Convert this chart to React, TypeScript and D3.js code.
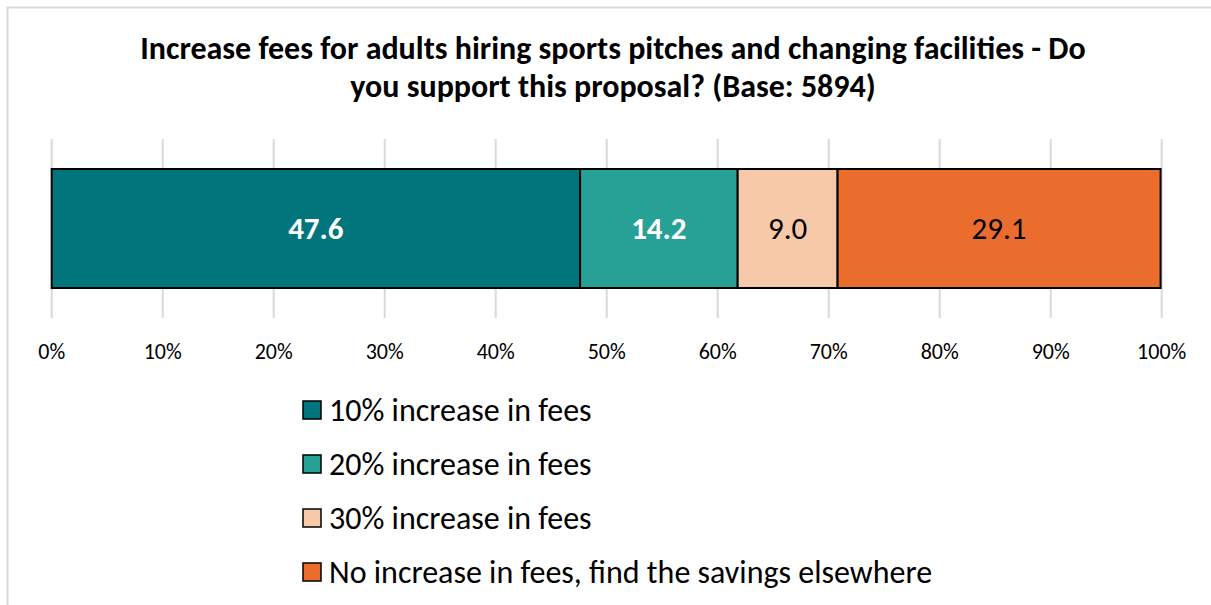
import { useMemo } from "react";
import * as d3 from "d3";

const keys = ["10% increase in fees", "20% increase in fees", "30% increase in fees", "No increase in fees, find the savings elsewhere"];
const values = [47.6, 14.2, 9.0, 29.1];
const colors = ["#00767C", "#27A096", "#F8C9A9", "#EB6D2D"];
const labelColors = ["#ffffff", "#ffffff", "#000000", "#000000"];
const labelWeights = ["bold", "bold", "normal", "normal"];
const ticks = [0, 10, 20, 30, 40, 50, 60, 70, 80, 90, 100];
const titleLines = [
  "Increase fees for adults hiring sports pitches and changing facilities - Do",
  "you support this proposal? (Base: 5894)",
];

const W = 1211;
const H = 605;
const FONT = "Carlito, Lato, 'Open Sans', sans-serif";

export default function App() {
  const x = d3.scaleLinear().domain([0, 100]).range([51.7, 1161.7]);
  const y = d3.scaleBand().domain(["row"]).range([169, 288]).padding(0);

  const stacked = useMemo(() => {
    const row: any = { cat: "row" };
    keys.forEach((k, i) => (row[k] = values[i]));
    return d3.stack().keys(keys)([row]);
  }, []);

  const gridTop = (y("row") as number) - 30;
  const gridBottom = (y("row") as number) + y.bandwidth() + 30;

  return (
    <svg width={W} height={H} style={{ position: "absolute", left: 0, top: 0 }} fontFamily={FONT}>
      <rect x={0} y={0} width={W} height={H} fill="#fff" />
      <rect x={7.5} y={7.5} width={W + 20} height={H + 20} fill="none" stroke="#d9d9d9" strokeWidth={2} />

      {titleLines.map((t, i) => (
        <text key={i} x={613} y={59 + i * 38} textAnchor="middle" fontSize={32} fontWeight="bold" fill="#000">
          {t}
        </text>
      ))}

      {ticks.map((t) => (
        <line key={t} x1={x(t)} x2={x(t)} y1={gridTop} y2={gridBottom} stroke="#d9d9d9" strokeWidth={2} />
      ))}

      {stacked.map((s, i) => {
        const d = s[0];
        const x0 = x(d[0]);
        const x1 = x(d[1]);
        const yy = y("row") as number;
        return (
          <g key={keys[i]}>
            <rect x={x0} y={yy} width={x1 - x0} height={y.bandwidth()} fill={colors[i]} stroke="#000" strokeWidth={2} />
            <text
              x={(x0 + x1) / 2}
              y={yy + y.bandwidth() / 2}
              dy="0.35em"
              textAnchor="middle"
              fontSize={31}
              fontWeight={labelWeights[i]}
              fill={labelColors[i]}
            >
              {values[i].toFixed(1)}
            </text>
          </g>
        );
      })}

      {ticks.map((t) => (
        <text key={"l" + t} x={x(t)} y={359} textAnchor="middle" fontSize={22} fill="#000">
          {t + "%"}
        </text>
      ))}

      {keys.map((k, i) => (
        <g key={"lg" + k} transform={`translate(303, ${410 + i * 54})`}>
          <rect x={0} y={-9} width={18} height={18} fill={colors[i]} stroke="#000" strokeWidth={1.5} />
          <text x={26} y={0} dy="0.35em" fontSize={32} fill="#000">
            {k}
          </text>
        </g>
      ))}
    </svg>
  );
}
